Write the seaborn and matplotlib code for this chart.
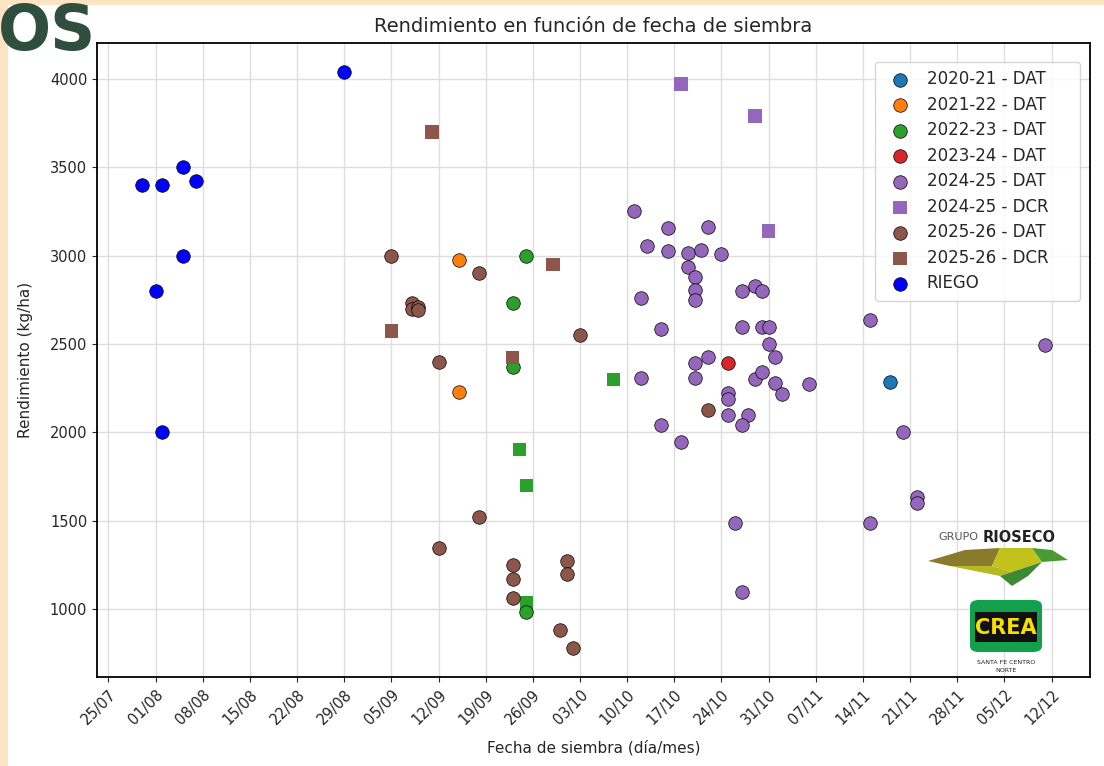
import matplotlib
matplotlib.use("Agg")
import matplotlib.pyplot as plt
import matplotlib.dates as mdates
from matplotlib.patches import Rectangle, Polygon, FancyBboxPatch
import pandas as pd
import seaborn as sns

# ---------------- data ----------------
riego_fechas = ["30/07", "02/08", "05/08", "07/08", "05/08", "01/08", "02/08", "29/08"]
riego_rend = [3400, 3400, 3500, 3420, 3000, 2800, 2000, 4040]

dat_2021_fechas = ["18/11"]
dat_2021_rend = [2286]

dat_2122_fechas = ["15/09", "15/09"]
dat_2122_rend = [2975, 2230]

dat_2223_fechas = ["25/09", "23/09", "23/09", "25/09"]
dat_2223_rend = [3000, 2730, 2370, 985]

sq_2223_fechas = ["08/10", "24/09", "25/09", "25/09"]
sq_2223_rend = [2300, 1905, 1700, 1040]

dat_2324_fechas = ["25/10"]
dat_2324_rend = [2395]

dat_2425_fechas = ["11/10", "16/10", "22/10", "13/10", "16/10", "19/10", "21/10", "24/10",
                   "19/10", "20/10", "12/10", "20/10", "20/10", "27/10", "29/10", "30/10",
                   "15/10", "27/10", "30/10", "31/10", "15/11", "31/10", "01/11", "22/10",
                   "20/10", "12/10", "20/10", "29/10", "30/10", "01/11", "02/11", "06/11",
                   "25/10", "25/10", "25/10", "28/10", "27/10", "15/10", "18/10", "20/11",
                   "26/10", "15/11", "22/11", "22/11", "27/10", "11/12"]
dat_2425_rend = [3255, 3155, 3160, 3055, 3024, 3015, 3034, 3011,
                 2936, 2880, 2761, 2808, 2750, 2800, 2831, 2799,
                 2586, 2596, 2596, 2596, 2635, 2498, 2427, 2427,
                 2391, 2310, 2310, 2301, 2344, 2282, 2220, 2272,
                 2225, 2192, 2097, 2097, 2043, 2043, 1947, 2000,
                 1490, 1490, 1635, 1600, 1095, 2495]

dcr_2425_fechas = ["18/10", "29/10", "31/10"]
dcr_2425_rend = [3970, 3790, 3140]

dat_2526_fechas = ["05/09", "08/09", "08/09", "09/09", "09/09", "18/09", "03/10", "12/09",
                   "18/09", "12/09", "23/09", "23/09", "01/10", "01/10", "23/09", "30/09",
                   "02/10", "22/10"]
dat_2526_rend = [3000, 2730, 2700, 2710, 2690, 2900, 2550, 2400,
                 1520, 1345, 1250, 1170, 1275, 1200, 1065, 885,
                 780, 2128]

dcr_2526_fechas = ["11/09", "05/09", "29/09", "23/09"]
dcr_2526_rend = [3700, 2575, 2950, 2425]

tick_inicio = "25/07"
tick_fin = "12/12"

titulo = "Rendimiento en función de fecha de siembra"
xlabel = "Fecha de siembra (día/mes)"
ylabel = "Rendimiento (kg/ha)"

grupos = [
    ("2020-21 - DAT", dat_2021_fechas, dat_2021_rend, "#1f77b4", "o"),
    ("2021-22 - DAT", dat_2122_fechas, dat_2122_rend, "#ff7f0e", "o"),
    ("2022-23 - DAT", dat_2223_fechas, dat_2223_rend, "#2ca02c", "o"),
    ("2023-24 - DAT", dat_2324_fechas, dat_2324_rend, "#d62728", "o"),
    ("2024-25 - DAT", dat_2425_fechas, dat_2425_rend, "#9467bd", "o"),
    ("2024-25 - DCR", dcr_2425_fechas, dcr_2425_rend, "#9467bd", "s"),
    ("2025-26 - DAT", dat_2526_fechas, dat_2526_rend, "#8c564b", "o"),
    ("2025-26 - DCR", dcr_2526_fechas, dcr_2526_rend, "#8c564b", "s"),
    ("RIEGO", riego_fechas, riego_rend, "#0000ff", "o"),
]


def to_dt(lst):
    return pd.to_datetime([d + "/2024" for d in lst], format="%d/%m/%Y")


# ---------------- figure ----------------
sns.set_style("ticks", {"axes.grid": True, "grid.color": "#dedede",
                        "axes.edgecolor": "black"})
plt.rcParams["font.family"] = ["DejaVu Sans"]

W, H = 1104, 766
fig = plt.figure(figsize=(W / 100, H / 100), dpi=100)
fig.patch.set_facecolor("#fce3c2")
fig.patches.append(Rectangle((8 / W, 0), 1, 1 - 5 / H, transform=fig.transFigure,
                             facecolor="white", edgecolor="none", zorder=-10))

ax = fig.add_axes([97 / W, 1 - 677 / H, (1090 - 97) / W, (677 - 43) / H])
ax.set_facecolor("white")

# green squares without legend entry
df_sq = pd.DataFrame({"fecha": to_dt(sq_2223_fechas), "rend": sq_2223_rend})
sns.scatterplot(data=df_sq, x="fecha", y="rend", ax=ax, color="#2ca02c", marker="s",
                s=90, edgecolor="none", legend=False, zorder=3)

for nombre, fch, rnd, col, mk in grupos:
    df = pd.DataFrame({"fecha": to_dt(fch), "rend": rnd})
    sns.scatterplot(data=df, x="fecha", y="rend", ax=ax, color=col, marker=mk, s=95,
                    edgecolor="black" if mk == "o" else "none",
                    linewidth=0.5, label=nombre, zorder=3)

ticks = pd.date_range(to_dt([tick_inicio])[0], to_dt([tick_fin])[0], freq="7D")
ax.set_xticks(ticks)
ax.xaxis.set_major_formatter(mdates.DateFormatter("%d/%m"))
plt.setp(ax.get_xticklabels(), rotation=45, ha="right", rotation_mode="anchor")
ax.tick_params(labelsize=10.5)
for s in ax.spines.values():
    s.set_linewidth(1.3)
ax.grid(True, color="#dedede", linewidth=1)

ax.set_title(titulo, fontsize=14, pad=8)
ax.set_xlabel(xlabel, fontsize=11, labelpad=9)
ax.set_ylabel(ylabel, fontsize=11, labelpad=12)

leg = ax.legend(loc="upper right", bbox_to_anchor=(0.7835, 0.5, 0.2064, 0.47),
                mode="expand", borderaxespad=0, fontsize=12, frameon=True,
                borderpad=0.5, labelspacing=0.45, handletextpad=0.6)
leg.get_frame().set_edgecolor("#cccccc")

# ---------------- logos / decoration ----------------
def P(x, y):
    return (x / W, 1 - y / H)

fig.text(-2 / W, 1 - 50 / H, "OS", fontsize=45, fontweight="bold", color="#2f4e3d",
         va="baseline", ha="left", zorder=10)

fig.text(*P(938, 537), "GRUPO", fontsize=8, color="#555555", va="center", ha="left",
         zorder=6)
fig.text(*P(983, 537), "RIOSECO", fontsize=10.5, color="#222222", fontweight="bold",
         va="center", ha="left", zorder=6)

polys = [
    ([(928, 561), (965, 550), (1000, 548), (992, 566), (950, 566)], "#8a7b2c"),
    ([(992, 566), (1000, 548), (1032, 548), (1042, 562), (1012, 572)], "#c2c21c"),
    ([(1032, 548), (1052, 550), (1068, 560), (1042, 562)], "#4a9a33"),
    ([(950, 566), (992, 566), (1012, 572), (1000, 576)], "#b5b81f"),
    ([(1000, 576), (1012, 572), (1042, 562), (1028, 576), (1012, 586)], "#3e8a34"),
]
for pts, col in polys:
    fig.patches.append(Polygon([P(*p) for p in pts], closed=True, transform=fig.transFigure,
                               facecolor=col, edgecolor="none", zorder=6))

x0, y0 = P(970, 652)
x1, y1 = P(1042, 600)
fig.patches.append(FancyBboxPatch((x0, y0), x1 - x0, y1 - y0,
                                  boxstyle="round,pad=0,rounding_size=0.008",
                                  transform=fig.transFigure, facecolor="#12a04c",
                                  edgecolor="none", zorder=6))
bx0, by0 = P(975, 642)
bx1, by1 = P(1037, 612)
fig.patches.append(Rectangle((bx0, by0), bx1 - bx0, by1 - by0, transform=fig.transFigure,
                             facecolor="#111111", edgecolor="none", zorder=7))
fig.text(*P(1006, 628), "CREA", fontsize=15, fontweight="bold", color="#f5e000",
         ha="center", va="center", zorder=8)
fig.text(*P(1006, 663), "SANTA FE CENTRO", fontsize=4.5, color="#222222",
         ha="center", va="center", zorder=8)
fig.text(*P(1006, 670), "NORTE", fontsize=4.5, color="#222222",
         ha="center", va="center", zorder=8)

fig.savefig("out.png", dpi=100, facecolor=fig.get_facecolor())
